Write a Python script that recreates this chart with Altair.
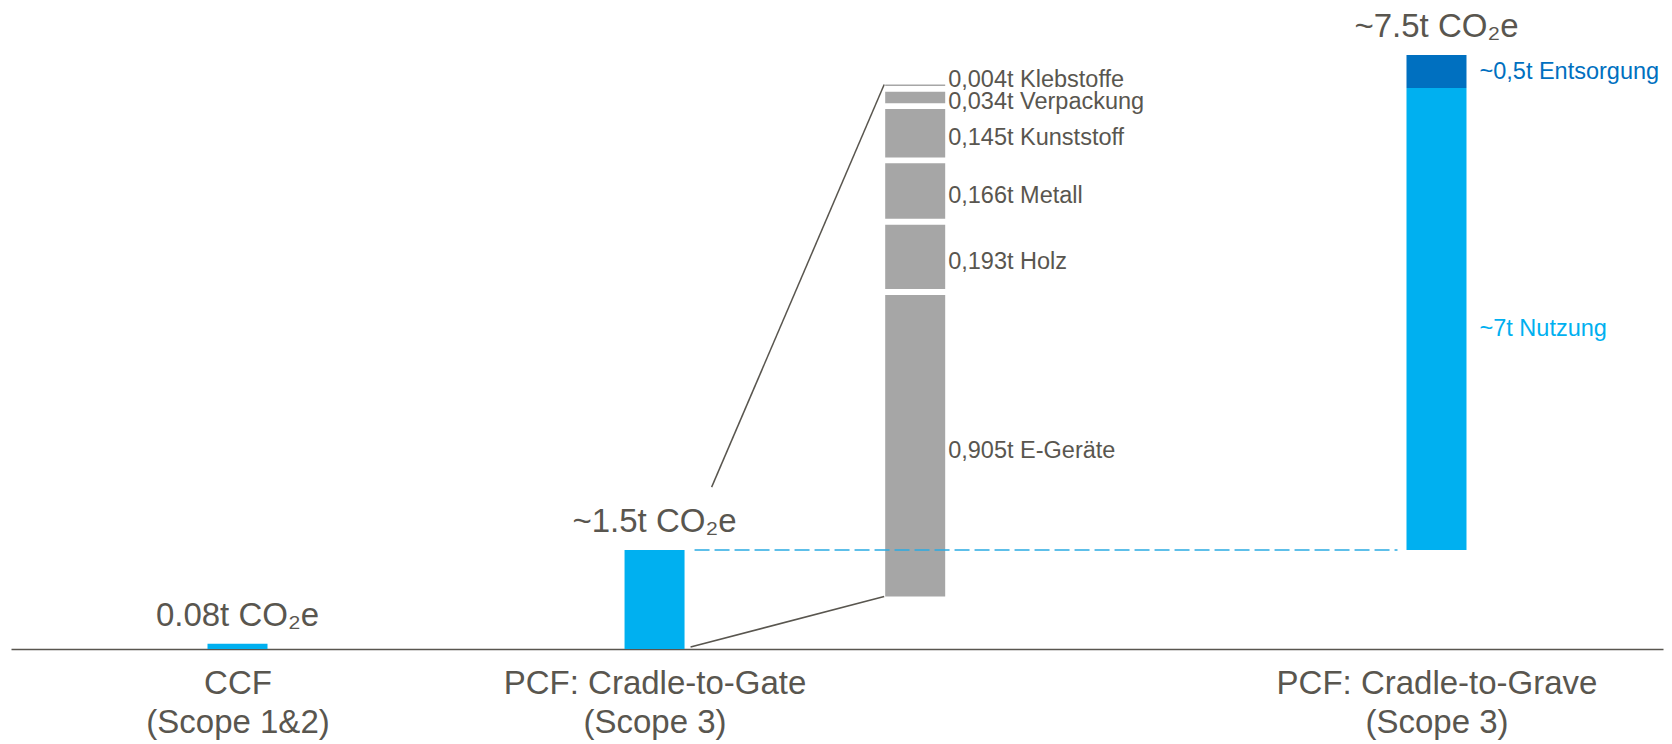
import altair as alt
import pandas as pd

# ---------------- values ----------------
main_labels = ["CCF\n(Scope 1&2)", "PCF: Cradle-to-Gate\n(Scope 3)", "PCF: Cradle-to-Grave\n(Scope 3)"]
ccf_total = 0.08
gate_total = 1.5
grave_values = [7.0, 0.5]
grave_texts = ["~7t Nutzung", "~0,5t Entsorgung"]
total_texts = ["0.08t CO₂e", "~1.5t CO₂e", "~7.5t CO₂e"]

detail_names = ["E-Geräte", "Holz", "Metall", "Kunststoff", "Verpackung", "Klebstoffe"]
detail_values = [0.905, 0.193, 0.166, 0.145, 0.034, 0.004]
detail_texts = ["0,905t E-Geräte", "0,193t Holz", "0,166t Metall",
                "0,145t Kunststoff", "0,034t Verpackung", "0,004t Klebstoffe"]

# ---------------- styling / layout constants ----------------
LIGHT = "#00B0F0"
DARK = "#0070C0"
GREY = "#A6A6A6"
TEXT = "#59564F"
FONT = "Liberation Sans"
DETAIL = "Detail"

W, H = 1652, 627
Y_MAX = 9.5
SLOTS = 32
SLOT_OF = {main_labels[0]: 4, main_labels[1]: 12, DETAIL: 17, main_labels[2]: 27}
PAD = 0.345
STEP = W / (SLOTS - 1 + 2 * PAD)
HALF_BAR = 30

DETAIL_BASE = 0.795  # magnified detail column starts above the baseline
DETAIL_ZOOM = 5.05   # magnification of the detail column
DETAIL_GAP = 0.09    # white gap between detail segments
FRAC = 0.135         # connector hidden behind the "~1.5t" label

domain = []
inv = {v: k for k, v in SLOT_OF.items()}
for i in range(SLOTS):
    domain.append(inv.get(i, f"_{i}"))

x_axis = alt.Axis(values=main_labels, labelExpr="split(datum.label, '\\n')", title=None,
                  ticks=False, grid=False, domainColor=TEXT, domainWidth=1.5,
                  labelFontSize=33, labelFont=FONT, labelColor=TEXT, labelPadding=18,
                  labelLineHeight=39, labelAngle=0, labelLimit=700, labelOverlap=False)
x_scale = alt.Scale(type="point", domain=domain, padding=PAD, align=0.5, round=False)
y_scale = alt.Scale(domain=[0, Y_MAX], nice=False, zero=True)


def X(f):
    return alt.X(f"{f}:N", scale=x_scale, axis=x_axis)


def X2(f):
    return alt.X2(f"{f}:N")


def Y(f):
    return alt.Y(f"{f}:Q", scale=y_scale, axis=None)


# ---------------- tables ----------------
g0 = gate_total
g1 = gate_total + grave_values[0]
g2 = gate_total + sum(grave_values)
bars = pd.DataFrame({
    "cat": [main_labels[0], main_labels[1], main_labels[2], main_labels[2]],
    "y0": [0, 0, g0, g1],
    "y1": [ccf_total, gate_total, g1, g2],
    "color": [LIGHT, LIGHT, LIGHT, DARK],
})

starts, ends = [], []
cur = DETAIL_BASE
for v in detail_values:
    starts.append(cur)
    cur += v * DETAIL_ZOOM
    ends.append(cur)
    cur += DETAIL_GAP
detail = pd.DataFrame({"cat": DETAIL, "name": detail_names, "y0": starts, "y1": ends,
                       "text": detail_texts})
detail["mid"] = (detail["y0"] + detail["y1"]) / 2
detail_top = ends[-1]

totals = pd.DataFrame({"cat": main_labels, "y": [ccf_total, gate_total, g2], "text": total_texts})

grave_lab = pd.DataFrame({"cat": main_labels[2], "y": [(g0 + g1) / 2, (g1 + g2) / 2],
                          "text": grave_texts, "color": [LIGHT, DARK]})

dash = pd.DataFrame({"a": [main_labels[1]], "b": [main_labels[2]], "y": [gate_total]})

upper = pd.DataFrame({"a": [main_labels[1]], "b": [DETAIL],
                      "y": [gate_total + FRAC * (detail_top - gate_total)], "y2": [detail_top]})
lower = pd.DataFrame({"a": [main_labels[1]], "b": [DETAIL], "y": [0.03], "y2": [DETAIL_BASE]})
dist = (SLOT_OF[DETAIL] - SLOT_OF[main_labels[1]]) * STEP
upper_off = HALF_BAR + FRAC * (dist - 2 * HALF_BAR)

# ---------------- layers ----------------
bar_layer = alt.Chart(bars).mark_bar(size=60).encode(
    x=X("cat"), y=Y("y0"), y2=alt.Y2("y1"), color=alt.Color("color:N", scale=None))

detail_layer = alt.Chart(detail).mark_bar(size=60, color=GREY).encode(
    x=X("cat"), y=Y("y0"), y2=alt.Y2("y1"))

dash_layer = alt.Chart(dash).mark_rule(color="#2AAAE2", strokeWidth=1.3, strokeDash=[15, 5],
                                       xOffset=40, x2Offset=-39).encode(
    x=X("a"), x2=X2("b"), y=Y("y"))

upper_layer = alt.Chart(upper).mark_rule(color=TEXT, strokeWidth=1.5,
                                         xOffset=upper_off, x2Offset=-HALF_BAR - 1).encode(
    x=X("a"), x2=X2("b"), y=Y("y"), y2=alt.Y2("y2"))

lower_layer = alt.Chart(lower).mark_rule(color=TEXT, strokeWidth=1.5,
                                         xOffset=36, x2Offset=-HALF_BAR - 1).encode(
    x=X("a"), x2=X2("b"), y=Y("y"), y2=alt.Y2("y2"))

totals_layer = alt.Chart(totals).mark_text(font=FONT, fontSize=33, color=TEXT,
                                           baseline="alphabetic", dy=-18).encode(
    x=X("cat"), y=Y("y"), text="text:N")

detail_text = alt.Chart(detail.iloc[:-1]).mark_text(font=FONT, fontSize=23.5, color=TEXT,
                                                    align="left", baseline="middle", dx=33, dy=5).encode(
    x=X("cat"), y=Y("mid"), text="text:N")

detail_text_top = alt.Chart(detail.iloc[-1:]).mark_text(font=FONT, fontSize=23.5, color=TEXT,
                                                        align="left", baseline="middle", dx=33, dy=-5).encode(
    x=X("cat"), y=Y("mid"), text="text:N")

grave_text_top = alt.Chart(grave_lab.iloc[1:]).mark_text(font=FONT, fontSize=23.5, align="left",
                                                         baseline="middle", dx=43).encode(
    x=X("cat"), y=Y("y"), text="text:N", color=alt.Color("color:N", scale=None))

grave_text_main = alt.Chart(grave_lab.iloc[:1]).mark_text(font=FONT, fontSize=23.5, align="left",
                                                          baseline="middle", dx=43, dy=10).encode(
    x=X("cat"), y=Y("y"), text="text:N", color=alt.Color("color:N", scale=None))

chart = alt.layer(
    bar_layer, detail_layer, dash_layer, upper_layer, lower_layer,
    totals_layer, detail_text, detail_text_top, grave_text_top, grave_text_main
).properties(
    width=W, height=H,
    autosize=alt.AutoSizeParams(type="none"),
    padding={"left": 3, "top": 14, "right": 1, "bottom": 96},
    background="white",
).configure_view(stroke=None)

chart.save("out.html", embed_options={"renderer": "svg", "actions": False})
